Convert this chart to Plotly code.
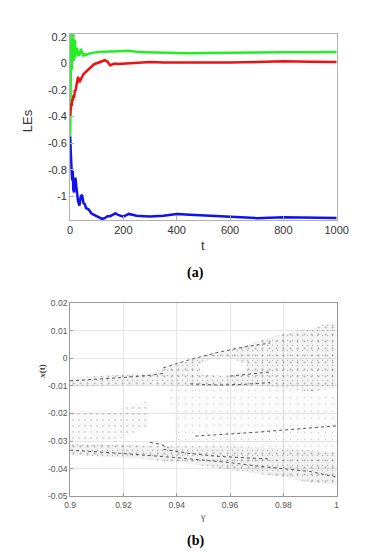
import plotly.graph_objects as go

# ---- (a) Lyapunov exponents ----
t = [0, 2, 4, 6, 8, 10, 12, 15, 18, 20, 25, 30, 35, 40, 45, 50, 55, 60, 70, 80, 90,
     100, 110, 120, 130, 140, 150, 160, 170, 180, 200, 220, 250, 280, 300, 350, 400,
     450, 500, 600, 700, 800, 900, 1000]
le1 = [-0.65, 0.10, 0.22, -0.05, 0.20, 0.05, 0.22, 0.02, 0.18, 0.05, 0.12, 0.07, 0.06,
       0.11, 0.08, 0.06, 0.07, 0.065, 0.075, 0.08, 0.083,
       0.086, 0.088, 0.09, 0.088, 0.09, 0.091, 0.09, 0.092, 0.09, 0.094, 0.096, 0.088, 0.086,
       0.085, 0.08, 0.077, 0.078, 0.08, 0.083, 0.085, 0.086, 0.086, 0.087]
le2 = [-0.40, -0.35, -0.30, -0.32, -0.27, -0.28, -0.24, -0.26, -0.20, -0.21, -0.15, -0.10,
       -0.14, -0.12, -0.09, -0.08, -0.07, -0.06, -0.04, -0.017, -0.005,
       0.002, 0.01, 0.02, 0.025, 0.015, -0.012, -0.005, 0.0, -0.003, 0.0, 0.004, 0.007, 0.01,
       0.012, 0.008, 0.007, 0.005, 0.007, 0.007, 0.012, 0.017, 0.013, 0.012]
le3 = [-0.55, -0.70, -0.78, -0.82, -0.88, -0.81, -0.95, -0.97, -0.90, -0.86, -0.955, -1.04,
       -1.07, -1.00, -0.99, -1.05, -1.06, -1.09, -1.10, -1.13, -1.14,
       -1.15, -1.16, -1.17, -1.165, -1.15, -1.15, -1.14, -1.13, -1.14, -1.153, -1.133, -1.146,
       -1.15, -1.153, -1.146, -1.133, -1.14, -1.146, -1.153, -1.165, -1.158, -1.16, -1.163]

# ---- (b) bifurcation diagram: band outlines and dense branches ----
# upper band (outline, then the empty pocket inside it)
band_up_g = [0.900, 0.915, 0.930, 0.940, 0.947, 0.955, 0.965, 0.975, 0.985, 0.990, 1.000,
             1.000, 0.990, 0.980, 0.970, 0.960, 0.950, 0.940, 0.930, 0.915, 0.900, None,
             0.952, 0.948, 0.950, 0.958, 0.966, 0.966, 0.960]
band_up_v = [-0.0070, -0.0063, -0.0052, -0.0025, 0.0000, 0.0020, 0.0045, 0.0075, 0.0100,
             0.0105, 0.0135, -0.0110, -0.0120, -0.0110, -0.0100, -0.0102, -0.0102, -0.0100,
             -0.0097, -0.0100, -0.0102, None,
             -0.0005, -0.0030, -0.0060, -0.0065, -0.0055, -0.0020, 0.0000]
# left wedge
wedge_g = [0.900, 0.910, 0.920, 0.926, 0.929, 0.930, 0.929, 0.920, 0.910, 0.900]
wedge_v = [-0.0185, -0.0190, -0.0180, -0.0165, -0.0155, -0.0200, -0.0250, -0.0290, -0.0300, -0.0300]
# sparse middle
mid_g = [0.937, 0.960, 1.000, 1.000, 0.970, 0.940]
mid_v = [-0.0110, -0.0110, -0.0120, -0.0330, -0.0320, -0.0320]
# lower band
band_lo_g = [0.900, 0.920, 0.930, 0.940, 0.960, 0.980, 1.000,
             1.000, 0.990, 0.980, 0.960, 0.940, 0.920, 0.900]
band_lo_v = [-0.0310, -0.0315, -0.0320, -0.0320, -0.0320, -0.0325, -0.0340,
             -0.0460, -0.0450, -0.0430, -0.0405, -0.0375, -0.0360, -0.0350]

branches = [
    ([0.900, 0.910, 0.920, 0.930, 0.935], [-0.0082, -0.0077, -0.0070, -0.0062, -0.0055]),
    ([0.935, 0.945, 0.955, 0.965, 0.975], [-0.0035, -0.0005, 0.0020, 0.0040, 0.0055]),
    ([0.945, 0.955, 0.965, 0.975], [-0.0093, -0.0097, -0.0095, -0.0088]),
    ([0.960, 0.968, 0.975], [-0.0065, -0.0058, -0.0050]),
    ([0.900, 0.920, 0.940, 0.950, 0.960, 0.970, 0.980, 0.990, 1.000],
     [-0.0333, -0.0345, -0.0360, -0.0368, -0.0378, -0.0390, -0.0400, -0.0410, -0.0430]),
    ([0.935, 0.945, 0.955, 0.965, 0.975], [-0.0330, -0.0345, -0.0355, -0.0360, -0.0365]),
    ([0.930, 0.934, 0.937], [-0.0305, -0.0312, -0.0325]),
    ([0.947, 0.960, 0.970, 0.980, 0.990, 1.000], [-0.0282, -0.0275, -0.0268, -0.0260, -0.0252, -0.0245]),
]

fig = go.Figure()

for y, c in [(le1, '#22ee22'), (le2, '#ee1111'), (le3, '#1111ee')]:
    fig.add_trace(go.Scatter(x=t, y=y, mode='lines', line=dict(color=c, width=2.5),
                             xaxis='x', yaxis='y', showlegend=False))

def patch(g, v, alpha, sizes, solid=0.06, dot='#666'):
    fig.add_trace(go.Scatter(x=g, y=v, mode='lines', fill='toself', line=dict(width=0),
                             fillcolor='rgba(60,60,60,%s)' % alpha,
                             xaxis='x2', yaxis='y2', showlegend=False, hoverinfo='skip'))
    for s in sizes:
        fig.add_trace(go.Scatter(x=g, y=v, mode='lines', fill='toself', line=dict(width=0),
                                 fillcolor='rgba(0,0,0,0)',
                                 fillpattern=dict(shape='.', size=s, solidity=solid,
                                                  fgcolor=dot, bgcolor='rgba(0,0,0,0)'),
                                 xaxis='x2', yaxis='y2', showlegend=False, hoverinfo='skip'))

patch(band_up_g, band_up_v, 0.06, [5, 7])
patch(wedge_g, wedge_v, 0.03, [6])
patch(mid_g, mid_v, 0.02, [7], solid=0.035, dot='#999')
patch(band_lo_g, band_lo_v, 0.07, [5, 7])

for g, v in branches:
    fig.add_trace(go.Scatter(x=g, y=v, mode='lines', line=dict(color='#555', width=1, dash='dot'),
                             xaxis='x2', yaxis='y2', showlegend=False))

ax_top = dict(showgrid=False, zeroline=False, showline=True, linecolor='#b0b0b0', mirror=True,
              ticks='inside', ticklen=4, tickcolor='#b0b0b0',
              tickfont=dict(family='Liberation Sans', size=11, color='#333'))
ax_bot = dict(showgrid=True, gridcolor='#e6e6e6', zeroline=False, showline=True, linecolor='#999',
              mirror=True, ticks='inside', ticklen=3, tickcolor='#999',
              tickfont=dict(family='Liberation Sans', size=8.5, color='#555'))

fig.update_layout(
    width=373, height=558, margin=dict(l=0, r=0, t=0, b=0),
    paper_bgcolor='white', plot_bgcolor='white',
    xaxis=dict(domain=[0.158, 0.909], anchor='y', range=[0, 1000], tickvals=[0, 200, 400, 600, 800, 1000], **ax_top),
    yaxis=dict(domain=[0.622, 0.962], anchor='x', range=[-1.18, 0.224],
               tickvals=[-1, -0.8, -0.6, -0.4, -0.2, 0, 0.2],
               ticktext=['-1', '-0.8', '-0.6', '-0.4', '-0.2', '0', '0.2'], **ax_top),
    xaxis2=dict(domain=[0.158, 0.909], anchor='y2', range=[0.9, 1.0],
                tickvals=[0.9, 0.92, 0.94, 0.96, 0.98, 1.0],
                ticktext=['0.9', '0.92', '0.94', '0.96', '0.98', '1'], **ax_bot),
    yaxis2=dict(domain=[0.118, 0.471], anchor='x2', range=[-0.05, 0.02],
                tickvals=[-0.05, -0.04, -0.03, -0.02, -0.01, 0, 0.01, 0.02],
                ticktext=['-0.05', '-0.04', '-0.03', '-0.02', '-0.01', '0', '0.01', '0.02'], **ax_bot),
)

labels = [
    ('t', 0.533, 0.575, 0, 'Liberation Sans', 13, '#333'),
    ('LEs', 0.04, 0.803, -90, 'Liberation Sans', 13, '#333'),
    ('<b>(a)</b>', 0.51, 0.525, 0, 'Liberation Serif', 14, 'black'),
    ('γ', 0.533, 0.082, 0, 'Liberation Serif', 10, '#555'),
    ('<b><i>x</i>(t)</b>', 0.08, 0.346, -90, 'Liberation Serif', 9, '#333'),
    ('<b>(b)</b>', 0.51, 0.037, 0, 'Liberation Serif', 14, 'black'),
]
for txt, x, y, ang, fam, sz, col in labels:
    fig.add_annotation(text=txt, x=x, y=y, xref='paper', yref='paper', showarrow=False,
                       xanchor='center', yanchor='middle', textangle=ang,
                       font=dict(family=fam, size=sz, color=col))

fig.write_html("out.html")
